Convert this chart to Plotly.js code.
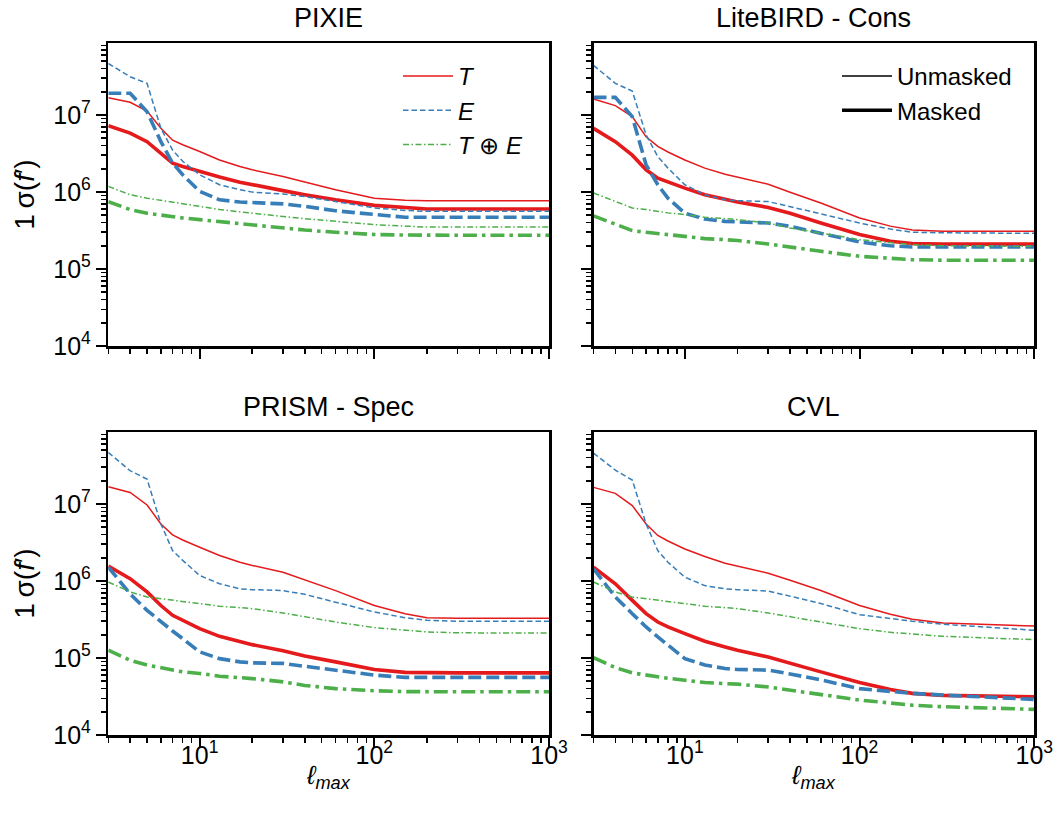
<!DOCTYPE html>
<html><head><meta charset="utf-8">
<script src="https://cdn.plot.ly/plotly-3.0.1.min.js"></script>
<style>html,body{margin:0;padding:0;background:#fff}#chart{width:1060px;height:818px}</style>
</head><body><div id="chart"></div>
<script>
// multipole ell_max
const ell = [3,4,5,6,7,8,10,13,17,20,30,40,60,100,150,200,300,1000];
const panelTitles = ['PIXIE','LiteBIRD - Cons','PRISM - Spec','CVL'];
const seriesNames = ['<i>T</i>','<i>E</i>','<i>T</i> \u2295 <i>E</i>'];
const maskNames = ['Unmasked','Masked'];
const yTickVals = [1e4,1e5,1e6,1e7];
const yTickText = ['10<sup>4</sup>','10<sup>5</sup>','10<sup>6</sup>','10<sup>7</sup>'];
const xTickVals = [10,100,1000];
const xTickText = ['10<sup>1</sup>','10<sup>2</sup>','10<sup>3</sup>'];

// PIXIE
const pixie_T_unmasked  = [1.67e7,1.46e7,1.12e7,6.7e6,4.7e6,4.1e6,3.35e6,2.6e6,2.14e6,1.94e6,1.59e6,1.34e6,1.07e6,8.3e5,7.8e5,7.7e5,7.7e5,7.7e5];
const pixie_T_masked    = [7.26e6,5.8e6,4.5e6,3.18e6,2.36e6,2.14e6,1.84e6,1.56e6,1.34e6,1.24e6,1.04e6,9.2e5,7.9e5,6.7e5,6.2e5,6.0e5,6.0e5,6.0e5];
const pixie_E_unmasked  = [4.66e7,3.13e7,2.57e7,6.7e6,3.5e6,2.5e6,1.67e6,1.24e6,1.07e6,9.95e5,9.4e5,8.7e5,7.5e5,6.2e5,5.75e5,5.6e5,5.6e5,5.6e5];
const pixie_E_masked    = [1.91e7,1.91e7,1.1e7,4.5e6,2.37e6,1.67e6,1.02e6,7.9e5,7.4e5,7.3e5,7.0e5,6.5e5,5.7e5,5.1e5,4.7e5,4.7e5,4.7e5,4.7e5];
const pixie_TE_unmasked = [1.18e6,9.2e5,8.3e5,7.8e5,7.5e5,7.1e5,6.5e5,5.9e5,5.5e5,5.3e5,4.8e5,4.5e5,4.15e5,3.76e5,3.6e5,3.5e5,3.5e5,3.5e5];
const pixie_TE_masked   = [7.5e5,5.9e5,5.3e5,5.0e5,4.8e5,4.6e5,4.37e5,4.1e5,3.9e5,3.76e5,3.4e5,3.2e5,3.0e5,2.8e5,2.76e5,2.74e5,2.74e5,2.74e5];

// LiteBIRD - Cons
const lite_T_unmasked  = [1.61e7,1.32e7,9.5e6,5.2e6,3.9e6,3.3e6,2.6e6,2.04e6,1.7e6,1.56e6,1.26e6,9.9e5,7.2e5,4.6e5,3.6e5,3.2e5,3.08e5,3.08e5];
const lite_T_masked    = [6.7e6,4.5e6,3.0e6,1.94e6,1.51e6,1.34e6,1.12e6,9.2e5,7.9e5,7.4e5,6.3e5,5.3e5,3.95e5,2.8e5,2.29e5,2.14e5,2.1e5,2.1e5];
const lite_E_unmasked  = [4.4e7,2.57e7,2.04e7,5.5e6,2.88e6,2.04e6,1.24e6,9.2e5,7.9e5,7.7e5,7.5e5,6.5e5,5.2e5,3.95e5,3.3e5,3.0e5,2.95e5,2.9e5];
const lite_E_masked    = [1.69e7,1.69e7,9.5e6,2.25e6,1.24e6,8.3e5,5.3e5,4.45e5,4.15e5,4.07e5,3.95e5,3.58e5,2.93e5,2.24e5,2.0e5,1.93e5,1.93e5,1.93e5];
const lite_TE_unmasked = [9.7e5,7.5e5,6.2e5,5.9e5,5.6e5,5.35e5,5.1e5,4.7e5,4.5e5,4.37e5,3.95e5,3.4e5,2.93e5,2.4e5,2.2e5,2.07e5,2.0e5,1.97e5];
const lite_TE_masked   = [4.9e5,3.76e5,3.15e5,3.0e5,2.88e5,2.75e5,2.6e5,2.48e5,2.4e5,2.34e5,2.11e5,1.91e5,1.7e5,1.46e5,1.37e5,1.32e5,1.3e5,1.3e5];

// PRISM - Spec
const prism_T_unmasked  = [1.67e7,1.41e7,9.7e6,5.5e6,3.96e6,3.4e6,2.74e6,2.14e6,1.75e6,1.59e6,1.3e6,1.04e6,7.5e5,4.8e5,3.76e5,3.34e5,3.27e5,3.27e5];
const prism_T_masked    = [1.56e6,1.07e6,7.2e5,4.8e5,3.58e5,3.08e5,2.4e5,1.91e5,1.62e5,1.49e5,1.24e5,1.06e5,8.9e4,7.1e4,6.5e4,6.4e4,6.4e4,6.4e4];
const prism_E_unmasked  = [4.66e7,2.7e7,2.1e7,5.5e6,2.48e6,1.85e6,1.18e6,9.2e5,7.9e5,7.7e5,7.5e5,6.7e5,5.3e5,3.95e5,3.34e5,3.08e5,3.0e5,3.0e5];
const prism_E_masked    = [1.51e6,6.8e5,4.15e5,2.93e5,2.24e5,1.78e5,1.2e5,9.8e4,8.9e4,8.65e4,8.5e4,7.8e4,6.95e4,6.0e4,5.6e4,5.6e4,5.6e4,5.6e4];
const prism_TE_unmasked = [9.7e5,7.2e5,6.2e5,5.9e5,5.6e5,5.35e5,5.1e5,4.7e5,4.5e5,4.37e5,3.84e5,3.4e5,2.93e5,2.48e5,2.3e5,2.18e5,2.12e5,2.11e5];
const prism_TE_masked   = [1.26e5,9.35e4,8.1e4,7.5e4,6.95e4,6.6e4,6.3e4,5.8e4,5.55e4,5.4e4,4.9e4,4.4e4,4.0e4,3.75e4,3.66e4,3.64e4,3.64e4,3.64e4];

// CVL
const cvl_T_unmasked  = [1.64e7,1.37e7,9.5e6,5.5e6,3.9e6,3.3e6,2.6e6,2.08e6,1.7e6,1.56e6,1.26e6,1.02e6,7.5e5,4.8e5,3.7e5,3.18e5,2.85e5,2.6e5];
const cvl_T_masked    = [1.51e6,9.2e5,5.6e5,3.76e5,2.93e5,2.53e5,2.07e5,1.65e5,1.39e5,1.26e5,1.03e5,8.5e4,6.6e4,4.8e4,3.9e4,3.47e4,3.27e4,3.14e4];
const cvl_E_unmasked  = [4.57e7,2.75e7,2.04e7,5.5e6,2.48e6,1.75e6,1.12e6,8.7e5,7.9e5,7.7e5,7.4e5,6.4e5,5.1e5,3.65e5,3.24e5,3.0e5,2.74e5,2.29e5];
const cvl_E_masked    = [1.44e6,6.2e5,3.76e5,2.53e5,1.88e5,1.46e5,9.8e4,8.1e4,7.3e4,7.1e4,6.95e4,6.2e4,5.2e4,4.0e4,3.64e4,3.47e4,3.3e4,2.9e4];
const cvl_TE_unmasked = [9.7e5,7.2e5,6.2e5,5.9e5,5.6e5,5.35e5,5.1e5,4.7e5,4.5e5,4.37e5,3.84e5,3.4e5,2.93e5,2.4e5,2.15e5,2.05e5,1.91e5,1.73e5];
const cvl_TE_masked   = [1.01e5,7.5e4,6.4e4,6.0e4,5.7e4,5.45e4,5.15e4,4.8e4,4.65e4,4.57e4,4.2e4,3.83e4,3.3e4,2.84e4,2.6e4,2.44e4,2.33e4,2.15e4];

const panels = [
  [[pixie_T_unmasked,pixie_T_masked],[pixie_E_unmasked,pixie_E_masked],[pixie_TE_unmasked,pixie_TE_masked]],
  [[lite_T_unmasked,lite_T_masked],[lite_E_unmasked,lite_E_masked],[lite_TE_unmasked,lite_TE_masked]],
  [[prism_T_unmasked,prism_T_masked],[prism_E_unmasked,prism_E_masked],[prism_TE_unmasked,prism_TE_masked]],
  [[cvl_T_unmasked,cvl_T_masked],[cvl_E_unmasked,cvl_E_masked],[cvl_TE_unmasked,cvl_TE_masked]]
];

const colors = ['#e41a1c','#377eb8','#4daf4a'];
const widths = [1.5, 3.6];
const dashes = [
  ['solid','solid'],
  ['5.5px,3px','13px,5px'],
  ['6px,2.5px,1.5px,2.5px','14px,5px,3.5px,5px']
];

const traces = [];
panels.forEach((p, pi) => {
  const ax = pi === 0 ? '' : String(pi + 1);
  p.forEach((pair, si) => {
    pair.forEach((vals, mi) => {
      traces.push({
        type: 'scatter', mode: 'lines', x: ell, y: vals,
        xaxis: 'x' + ax, yaxis: 'y' + ax,
        name: seriesNames[si],
        line: {color: colors[si], width: widths[mi], dash: dashes[si][mi]},
        showlegend: pi === 0 && mi === 0,
        legend: 'legend', legendgroup: 'g' + si,
        hoverinfo: 'skip'
      });
    });
  });
});
maskNames.forEach((nm, mi) => {
  traces.push({
    type: 'scatter', mode: 'lines', x: [null], y: [null],
    xaxis: 'x2', yaxis: 'y2', name: nm,
    line: {color: 'black', width: widths[mi]},
    showlegend: true, legend: 'legend2', legendgroup: 'm' + mi
  });
});

const xMinor = [], yMinor = [];
for (let d = 0; d < 3; d++) for (let k = 2; k <= 9; k++) xMinor.push(k * Math.pow(10, d));
for (let d = 4; d < 8; d++) for (let k = 2; k <= 9; k++) yMinor.push(k * Math.pow(10, d));

const font = 'Liberation Sans, Arial, Helvetica, sans-serif';
const W = 1060, H = 818;
const colDom = [[108.3 / W, 549 / W], [593.5 / W, 1034.3 / W]];
const rowDom = [[1 - 346 / H, 1 - 43.3 / H], [1 - 735 / H, 1 - 432.3 / H]];

function xAxis(dom, anchor, labels) {
  return {
    type: 'log', domain: dom, anchor: anchor, range: [Math.log10(3), 3],
    showline: true, mirror: true, linecolor: 'black', linewidth: 2.5,
    ticks: 'outside', ticklen: 10, tickwidth: 2, tickcolor: 'black',
    tickmode: 'array', tickvals: xTickVals, ticktext: xTickText,
    showticklabels: labels, showgrid: false, zeroline: false,
    ticklabelstandoff: -14,
    tickfont: {family: font, size: 25, color: 'black'},
    minor: {tickmode: 'array', tickvals: xMinor, ticks: 'outside', ticklen: 5, tickwidth: 1.5, tickcolor: 'black', showgrid: false}
  };
}
function yAxis(dom, anchor, labels) {
  return {
    type: 'log', domain: dom, anchor: anchor, range: [4, 7.93],
    showline: true, mirror: true, linecolor: 'black', linewidth: 2.5,
    ticks: 'outside', ticklen: 10, tickwidth: 2, tickcolor: 'black',
    tickmode: 'array', tickvals: yTickVals, ticktext: yTickText,
    showticklabels: labels, showgrid: false, zeroline: false,
    tickfont: {family: font, size: 25, color: 'black'},
    minor: {tickmode: 'array', tickvals: yMinor, ticks: 'outside', ticklen: 5, tickwidth: 1.5, tickcolor: 'black', showgrid: false}
  };
}

const annotations = [];
panelTitles.forEach((t, pi) => {
  const ax = pi === 0 ? '' : String(pi + 1);
  annotations.push({text: t, xref: 'x' + ax + ' domain', yref: 'y' + ax + ' domain', x: 0.5, y: 1,
    xanchor: 'center', yanchor: 'bottom', yshift: 8, showarrow: false,
    font: {family: font, size: 27, color: 'black'}});
});
['', '3'].forEach(ax => {
  annotations.push({text: '1\u2009\u03c3(<i>f</i>\u2032)', xref: 'paper', yref: 'y' + ax + ' domain', x: 25 / W, y: 0.5,
    xanchor: 'center', yanchor: 'middle', textangle: -90, showarrow: false,
    font: {family: font, size: 28, color: 'black'}});
});
['3', '4'].forEach(ax => {
  annotations.push({text: '<i>\u2113<sub>max</sub></i>', xref: 'x' + ax + ' domain', yref: 'y' + ax + ' domain', x: 0.5, y: 0,
    xanchor: 'center', yanchor: 'top', yshift: -23, showarrow: false,
    font: {family: font, size: 26, color: 'black'}});
});

const layout = {
  width: W, height: H, margin: {l: 0, r: 0, t: 0, b: 0},
  paper_bgcolor: 'white', plot_bgcolor: 'white',
  font: {family: font, color: 'black'},
  xaxis: xAxis(colDom[0], 'y', false), yaxis: yAxis(rowDom[0], 'x', true),
  xaxis2: xAxis(colDom[1], 'y2', false), yaxis2: yAxis(rowDom[0], 'x2', false),
  xaxis3: xAxis(colDom[0], 'y3', true), yaxis3: yAxis(rowDom[1], 'x3', true),
  xaxis4: xAxis(colDom[1], 'y4', true), yaxis4: yAxis(rowDom[1], 'x4', false),
  legend: {x: 398 / W, y: 1 - 54 / H, xanchor: 'left', yanchor: 'top', bgcolor: 'rgba(0,0,0,0)',
    borderwidth: 0, traceorder: 'grouped', tracegroupgap: 0, itemwidth: 50,
    font: {family: font, size: 24, color: 'black'}},
  legend2: {x: 837 / W, y: 1 - 54 / H, xanchor: 'left', yanchor: 'top', bgcolor: 'rgba(0,0,0,0)',
    borderwidth: 0, traceorder: 'grouped', tracegroupgap: 0, itemwidth: 50,
    font: {family: font, size: 24, color: 'black'}},
  annotations: annotations,
  showlegend: true
};

Plotly.newPlot('chart', traces, layout, {displayModeBar: false, staticPlot: true});
</script>
</body></html>
